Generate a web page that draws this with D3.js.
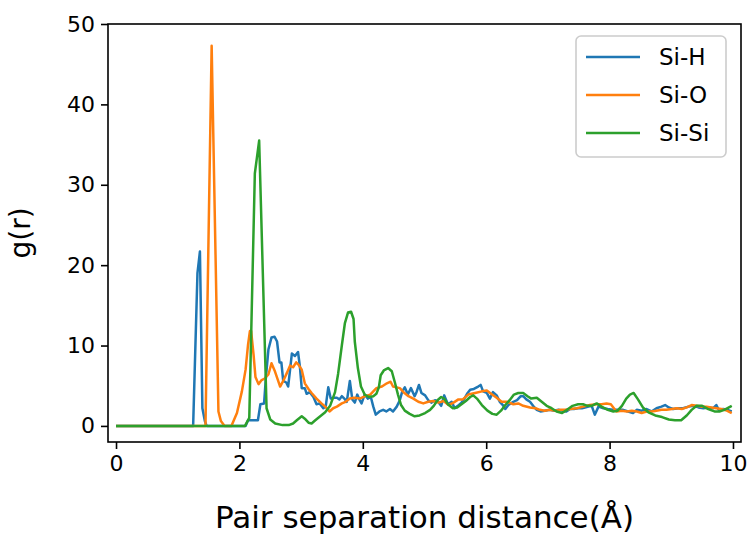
<!DOCTYPE html>
<html>
<head>
<meta charset="utf-8">
<script src="https://cdn.jsdelivr.net/npm/d3@7"></script>
<style>
  body { margin: 0; background: #fff; }
  svg text { font-family: "DejaVu Sans", sans-serif; }
</style>
</head>
<body>
<div id="chart"></div>
<script>
// radial distribution functions
const siH_r = [0, 1.25, 1.32, 1.36, 1.40, 1.44, 1.47, 2.10, 2.14, 2.30, 2.34, 2.40, 2.43, 2.47, 2.52, 2.57, 2.61, 2.65, 2.68, 2.71, 2.76, 2.79, 2.82, 2.85, 2.90, 2.95, 2.98, 3.01, 3.06, 3.09, 3.14, 3.20, 3.25, 3.30, 3.36, 3.40, 3.44, 3.48, 3.53, 3.58, 3.62, 3.66, 3.70, 3.74, 3.79, 3.83, 3.87, 3.91, 3.95, 3.98, 4.03, 4.08, 4.13, 4.17, 4.21, 4.27, 4.33, 4.38, 4.44, 4.49, 4.55, 4.60, 4.64, 4.68, 4.73, 4.78, 4.84, 4.87, 4.91, 4.95, 5.01, 5.06, 5.11, 5.17, 5.22, 5.27, 5.32, 5.38, 5.44, 5.49, 5.54, 5.60, 5.64, 5.69, 5.74, 5.80, 5.87, 5.91, 5.95, 6.01, 6.06, 6.11, 6.17, 6.22, 6.27, 6.31, 6.36, 6.44, 6.50, 6.56, 6.60, 6.65, 6.71, 6.76, 6.82, 6.88, 6.95, 7.03, 7.10, 7.17, 7.23, 7.30, 7.36, 7.42, 7.49, 7.55, 7.60, 7.66, 7.71, 7.76, 7.82, 7.90, 7.97, 8.05, 8.13, 8.22, 8.30, 8.38, 8.44, 8.52, 8.60, 8.68, 8.76, 8.84, 8.90, 8.96, 9.03, 9.11, 9.19, 9.28, 9.36, 9.44, 9.52, 9.60, 9.68, 9.73, 9.77, 9.84, 9.91, 9.98];
const siH_g = [0, 0, 19.0, 21.7, 2.2, 0.6, 0, 0, 0.7, 0.7, 2.7, 2.8, 6.1, 9.5, 11.0, 11.1, 10.5, 7.9, 7.9, 5.6, 5.4, 4.9, 6.9, 9.0, 8.7, 9.2, 7.4, 4.7, 4.7, 4.0, 4.2, 3.6, 2.7, 2.8, 2.2, 2.5, 4.8, 3.4, 3.5, 3.5, 3.3, 3.7, 3.4, 3.0, 5.6, 3.3, 2.9, 3.9, 3.2, 2.8, 3.9, 3.4, 3.6, 2.4, 1.4, 1.8, 2.0, 1.8, 2.1, 1.8, 2.4, 3.2, 4.3, 4.8, 3.9, 4.7, 3.7, 4.2, 5.1, 4.1, 3.8, 3.2, 2.9, 3.2, 3.0, 2.5, 3.8, 2.7, 3.0, 2.2, 2.5, 2.9, 3.3, 4.0, 4.5, 4.6, 4.9, 5.1, 4.3, 4.1, 3.4, 4.2, 3.8, 3.0, 2.6, 2.1, 2.6, 3.0, 3.2, 3.7, 3.7, 3.3, 3.0, 2.5, 2.0, 1.8, 1.9, 2.0, 1.9, 2.0, 1.9, 1.8, 2.1, 2.1, 2.2, 2.2, 2.3, 2.4, 2.5, 1.4, 2.4, 2.2, 2.1, 2.0, 2.0, 2.0, 1.8, 1.6, 2.0, 1.9, 2.1, 1.8, 2.2, 2.4, 2.6, 2.3, 2.1, 2.2, 2.2, 2.4, 2.5, 2.3, 2.2, 2.3, 2.2, 2.6, 2.0, 2.1, 2.0, 1.8];

const siO_r = [0, 1.45, 1.55, 1.66, 1.70, 1.76, 1.87, 1.96, 2.04, 2.10, 2.14, 2.17, 2.19, 2.23, 2.26, 2.31, 2.36, 2.41, 2.47, 2.52, 2.57, 2.62, 2.66, 2.71, 2.77, 2.82, 2.87, 2.92, 2.96, 3.01, 3.06, 3.12, 3.17, 3.25, 3.33, 3.39, 3.46, 3.52, 3.58, 3.66, 3.72, 3.79, 3.86, 3.95, 4.04, 4.12, 4.17, 4.22, 4.31, 4.39, 4.45, 4.49, 4.55, 4.60, 4.66, 4.74, 4.82, 4.90, 4.98, 5.06, 5.14, 5.23, 5.31, 5.39, 5.47, 5.55, 5.62, 5.71, 5.82, 5.93, 6.01, 6.08, 6.17, 6.25, 6.34, 6.44, 6.52, 6.60, 6.71, 6.80, 6.87, 6.95, 7.03, 7.12, 7.20, 7.28, 7.36, 7.47, 7.57, 7.68, 7.79, 7.87, 7.95, 8.02, 8.11, 8.20, 8.28, 8.36, 8.44, 8.52, 8.60, 8.68, 8.76, 8.84, 8.92, 9.01, 9.09, 9.17, 9.25, 9.33, 9.41, 9.49, 9.57, 9.65, 9.73, 9.81, 9.90, 9.98];
const siO_g = [0, 0, 47.3, 1.8, 0.6, 0, 0, 1.6, 4.3, 7.0, 10.1, 11.8, 11.8, 8.8, 6.1, 5.2, 5.7, 5.9, 6.4, 7.8, 6.9, 5.8, 4.9, 5.6, 6.6, 7.5, 7.3, 7.9, 7.6, 7.0, 5.3, 4.6, 4.1, 3.4, 2.8, 2.4, 1.8, 2.2, 2.4, 2.8, 3.0, 3.4, 3.5, 3.4, 3.7, 3.9, 4.3, 4.7, 4.9, 5.3, 5.5, 4.9, 4.8, 4.7, 4.2, 3.7, 3.4, 3.0, 2.8, 3.0, 3.1, 2.9, 3.1, 2.6, 2.9, 3.3, 3.3, 3.9, 4.1, 4.3, 4.4, 4.0, 3.5, 3.0, 3.0, 2.7, 2.8, 2.5, 2.3, 2.2, 2.0, 1.9, 2.0, 1.9, 2.0, 2.0, 2.1, 2.2, 2.4, 2.6, 2.7, 2.7, 2.8, 2.7, 1.8, 1.9, 1.8, 1.9, 1.8, 1.6, 1.8, 1.8, 1.9, 2.0, 2.0, 2.1, 2.2, 2.1, 2.3, 2.6, 2.5, 2.4, 2.4, 2.3, 2.2, 2.1, 1.9, 1.6];

const siSi_r = [0, 2.09, 2.16, 2.25, 2.32, 2.44, 2.50, 2.58, 2.70, 2.80, 2.87, 2.93, 3.01, 3.06, 3.12, 3.17, 3.23, 3.31, 3.39, 3.47, 3.55, 3.60, 3.66, 3.71, 3.76, 3.81, 3.85, 3.87, 3.92, 3.97, 4.03, 4.10, 4.17, 4.22, 4.26, 4.29, 4.34, 4.41, 4.47, 4.52, 4.57, 4.62, 4.68, 4.76, 4.84, 4.92, 5.01, 5.09, 5.15, 5.21, 5.27, 5.32, 5.38, 5.46, 5.53, 5.60, 5.67, 5.74, 5.79, 5.85, 5.93, 6.02, 6.10, 6.17, 6.24, 6.31, 6.38, 6.45, 6.52, 6.60, 6.67, 6.73, 6.82, 6.90, 6.98, 7.06, 7.14, 7.23, 7.31, 7.40, 7.49, 7.57, 7.64, 7.71, 7.79, 7.87, 7.97, 8.06, 8.13, 8.20, 8.27, 8.33, 8.39, 8.46, 8.54, 8.63, 8.74, 8.85, 8.96, 9.06, 9.16, 9.25, 9.33, 9.41, 9.50, 9.60, 9.70, 9.78, 9.86, 9.98];
const siSi_g = [0, 0, 1.0, 31.4, 35.5, 2.2, 0.8, 0.3, 0.1, 0.1, 0.3, 0.7, 1.2, 0.9, 0.4, 0.3, 0.7, 1.2, 1.7, 2.5, 4.2, 6.5, 10.0, 12.8, 14.1, 14.2, 13.3, 10.5, 7.2, 4.9, 3.9, 3.6, 3.7, 4.0, 4.8, 6.3, 6.9, 7.2, 6.8, 5.4, 3.9, 2.6, 1.9, 1.5, 1.2, 1.3, 1.6, 2.0, 2.5, 3.2, 3.6, 3.4, 2.7, 2.2, 2.3, 2.7, 3.1, 3.6, 3.8, 3.4, 2.6, 1.9, 1.5, 1.4, 1.9, 2.6, 3.2, 3.9, 4.1, 4.1, 3.7, 3.4, 3.5, 3.0, 2.5, 2.2, 1.8, 1.6, 2.0, 2.5, 2.7, 2.7, 2.5, 2.5, 2.8, 2.4, 2.0, 1.8, 1.9, 2.5, 3.4, 3.9, 4.1, 3.3, 2.3, 1.7, 1.3, 1.1, 0.8, 0.7, 0.7, 1.3, 2.0, 2.5, 2.5, 2.1, 1.8, 1.8, 2.0, 2.5];

const seriesNames = ["Si-H", "Si-O", "Si-Si"];
const seriesColors = ["#1f77b4", "#ff7f0e", "#2ca02c"];
const xTicks = [0, 2, 4, 6, 8, 10];
const yTicks = [0, 10, 20, 30, 40, 50];

const width = 750, height = 537;
const margin = {left: 108, right: 9, top: 24, bottom: 95};

const svg = d3.select("#chart").append("svg")
    .attr("width", width)
    .attr("height", height);

const x = d3.scaleLinear().domain([-0.13, 10.13]).range([margin.left, width - margin.right]);
const y = d3.scaleLinear().domain([-2, 50]).range([height - margin.bottom, margin.top]);

const series = [
    {name: seriesNames[0], r: siH_r, g: siH_g, color: seriesColors[0]},
    {name: seriesNames[1], r: siO_r, g: siO_g, color: seriesColors[1]},
    {name: seriesNames[2], r: siSi_r, g: siSi_g, color: seriesColors[2]}
];

const line = d3.line().x(d => x(d[0])).y(d => y(d[1]));

svg.append("g")
    .selectAll("path")
    .data(series)
    .join("path")
    .attr("fill", "none")
    .attr("stroke", d => d.color)
    .attr("stroke-width", 2.5)
    .attr("stroke-linejoin", "round")
    .attr("d", d => line(d.r.map((v, i) => [v, d.g[i]])));

// axes
const xAxis = d3.axisBottom(x).tickValues(xTicks).tickSize(7).tickPadding(6);
const yAxis = d3.axisLeft(y).tickValues(yTicks).tickSize(7).tickPadding(6);

const gX = svg.append("g")
    .attr("transform", "translate(0," + (height - margin.bottom) + ")")
    .call(xAxis);
const gY = svg.append("g")
    .attr("transform", "translate(" + margin.left + ",0)")
    .call(yAxis);

[gX, gY].forEach(g => {
    g.select(".domain").remove();
    g.selectAll(".tick line").attr("stroke", "#000").attr("stroke-width", 1.6);
    g.selectAll(".tick text").attr("fill", "#000").style("font-size", "22px");
});

// frame
svg.append("rect")
    .attr("x", margin.left)
    .attr("y", margin.top)
    .attr("width", width - margin.left - margin.right)
    .attr("height", height - margin.top - margin.bottom)
    .attr("fill", "none")
    .attr("stroke", "#000")
    .attr("stroke-width", 1.6);

// axis labels
svg.append("text")
    .attr("x", (margin.left + width - margin.right) / 2)
    .attr("y", 528)
    .attr("text-anchor", "middle")
    .style("font-size", "31px")
    .text("Pair separation distance(Å)");

svg.append("text")
    .attr("transform", "translate(30," + ((margin.top + height - margin.bottom) / 2) + ") rotate(-90)")
    .attr("text-anchor", "middle")
    .style("font-size", "28px")
    .text("g(r)");

// legend
const legend = svg.append("g").attr("transform", "translate(576,36)");
legend.append("rect")
    .attr("width", 150)
    .attr("height", 121)
    .attr("rx", 5)
    .attr("fill", "#fff")
    .attr("fill-opacity", 0.8)
    .attr("stroke", "#cccccc")
    .attr("stroke-width", 1.6);

const item = legend.selectAll(".item")
    .data(series)
    .join("g")
    .attr("class", "item")
    .attr("transform", (d, i) => "translate(0," + (21 + i * 38) + ")");
item.append("line")
    .attr("x1", 10).attr("x2", 64)
    .attr("stroke", d => d.color)
    .attr("stroke-width", 2.5);
item.append("text")
    .attr("x", 83)
    .attr("y", 8)
    .style("font-size", "23px")
    .text(d => d.name);
</script>
</body>
</html>
